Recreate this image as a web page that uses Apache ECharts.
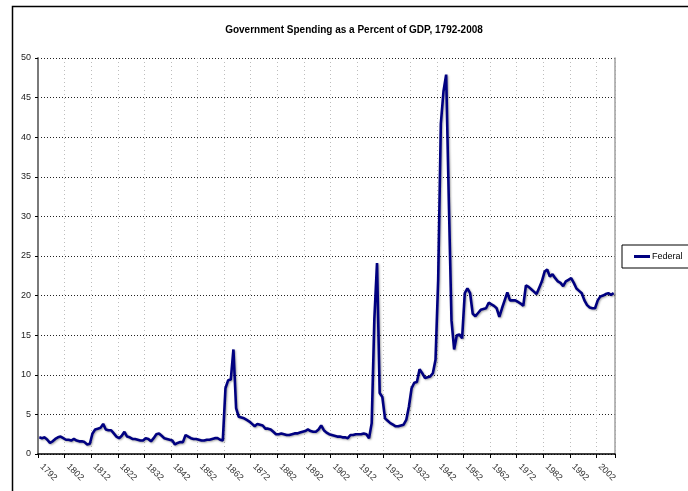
<!DOCTYPE html>
<html>
<head>
<meta charset="utf-8">
<script src="https://cdn.jsdelivr.net/npm/echarts@6/dist/echarts.min.js"></script>
<style>
  html, body { margin: 0; padding: 0; background: #fff; }
  #chart { width: 688px; height: 491px; }
</style>
</head>
<body>
<div id="chart"></div>
<script>
const titleText = 'Government Spending as a Percent of GDP, 1792-2008';
const seriesName = 'Federal';
const firstYear = 1792;
const lastYear = 2008;
const years = [];
for (let y = firstYear; y <= lastYear; y++) years.push(String(y));

// Federal spending, % of GDP, one value per year 1792-2008
const federal = [
  2.1, 2.0, 2.1, 1.8, 1.4, 1.6, 1.9, 2.1, 2.2, 2.0,      // 1792-1801
  1.8, 1.8, 1.7, 1.9, 1.7, 1.6, 1.6, 1.5, 1.2, 1.3,      // 1802-1811
  2.6, 3.1, 3.2, 3.3, 3.8, 3.1, 3.0, 3.0, 2.6, 2.2,      // 1812-1821
  2.0, 2.3, 2.8, 2.2, 2.1, 1.9, 1.9, 1.8, 1.7, 1.7,      // 1822-1831
  2.0, 1.9, 1.6, 2.0, 2.5, 2.6, 2.3, 2.0, 1.9, 1.8,      // 1832-1841
  1.7, 1.2, 1.4, 1.5, 1.5, 2.4, 2.2, 2.0, 1.9, 1.9,      // 1842-1851
  1.8, 1.7, 1.7, 1.8, 1.8, 1.9, 2.0, 2.0, 1.8, 1.7,      // 1852-1861
  8.3, 9.3, 9.4, 13.2, 5.8, 4.7, 4.6, 4.5, 4.3, 4.1,     // 1862-1871
  3.8, 3.5, 3.8, 3.7, 3.6, 3.2, 3.2, 3.1, 2.8, 2.5,      // 1872-1881
  2.5, 2.6, 2.5, 2.4, 2.4, 2.5, 2.6, 2.6, 2.7, 2.8,      // 1882-1891
  2.9, 3.1, 2.9, 2.8, 2.8, 3.1, 3.6, 3.0, 2.7, 2.5,      // 1892-1901
  2.4, 2.3, 2.2, 2.2, 2.1, 2.1, 2.0, 2.4, 2.4, 2.5,      // 1902-1911
  2.5, 2.5, 2.6, 2.5, 2.0, 3.9, 17.1, 24.1, 7.7, 7.2,    // 1912-1921
  4.5, 4.2, 3.9, 3.7, 3.5, 3.5, 3.6, 3.7, 4.3, 6.0,      // 1922-1931
  8.3, 9.0, 9.1, 10.7, 10.2, 9.6, 9.7, 9.8, 10.2, 11.9,  // 1932-1941
  22.0, 41.7, 45.8, 47.9, 32.0, 16.9, 13.2, 15.0, 15.1, 14.6, // 1942-1951
  20.3, 20.9, 20.3, 17.7, 17.4, 17.8, 18.2, 18.3, 18.4, 19.1, // 1952-1961
  18.9, 18.7, 18.4, 17.3, 18.4, 19.4, 20.4, 19.4, 19.4, 19.4, // 1962-1971
  19.2, 19.0, 18.7, 21.3, 21.1, 20.8, 20.5, 20.2, 21.0, 21.8, // 1972-1981
  23.0, 23.3, 22.4, 22.7, 22.2, 21.8, 21.6, 21.2, 21.8, 22.0, // 1982-1991
  22.2, 21.6, 20.9, 20.6, 20.3, 19.4, 18.8, 18.5, 18.4, 18.4, // 1992-2001
  19.4, 19.9, 20.0, 20.2, 20.3, 20.1, 20.3                    // 2002-2008
];

const yMin = 0, yMax = 50, yStep = 5;
const labelEvery = 10;

const font = '"Liberation Sans", Arial, sans-serif';
const chart = echarts.init(document.getElementById('chart'), null, { renderer: 'canvas' });

chart.setOption({
  animation: false,
  backgroundColor: '#fff',
  textStyle: { fontFamily: font },
  title: {
    text: titleText,
    left: 349,
    textAlign: 'center',
    top: 20,
    textStyle: { fontFamily: font, fontSize: 10, fontWeight: 'bold', color: '#000' }
  },
  graphic: [{
    type: 'rect',
    silent: true,
    shape: { x: 12.5, y: 6.5, width: 1000, height: 1000 },
    style: { fill: null, stroke: '#000', lineWidth: 1.5 }
  }],
  legend: {
    show: true,
    data: [seriesName],
    left: 622,
    top: 245,
    orient: 'vertical',
    padding: [7, 30, 7, 12],
    borderColor: '#000',
    borderWidth: 1,
    icon: 'rect',
    itemWidth: 16,
    itemHeight: 3,
    itemGap: 2,
    textStyle: { fontFamily: font, fontSize: 9, color: '#000', padding: [0, 0, 0, -3] }
  },
  grid: { left: 38, top: 58, right: 73, bottom: 37, containLabel: false },
  xAxis: {
    type: 'category',
    data: years,
    boundaryGap: true,
    axisLine: { lineStyle: { color: '#000', width: 1.5 } },
    axisTick: { show: true, interval: labelEvery - 1, length: 4, lineStyle: { color: '#000', width: 1 } },
    axisLabel: { interval: labelEvery - 1, rotate: -45, fontSize: 9, color: '#333', margin: 9, fontFamily: font, padding: [0, 0, 0, 3] },
    splitLine: { show: true, interval: labelEvery - 1, lineStyle: { color: '#bdbdbd', type: [1, 3], width: 1 } }
  },
  yAxis: [{
    type: 'value',
    min: yMin, max: yMax, interval: yStep,
    axisLine: { show: true, lineStyle: { color: '#7a7a7a', width: 2 } },
    axisTick: { show: true, length: 3, lineStyle: { color: '#000' } },
    axisLabel: { fontSize: 9, color: '#222', margin: 7, fontFamily: font },
    splitLine: { show: true, lineStyle: { color: '#222', type: [1, 2], width: 1 } }
  }, {
    type: 'value',
    position: 'right',
    min: yMin, max: yMax, interval: yStep,
    axisLine: { show: true, lineStyle: { color: '#a0a0a0', width: 1.5 } },
    axisTick: { show: false },
    axisLabel: { show: false },
    splitLine: { show: false }
  }],
  series: [{
    name: seriesName,
    type: 'line',
    yAxisIndex: 0,
    data: federal,
    showSymbol: false,
    symbol: 'none',
    smooth: false,
    color: '#000080',
    lineStyle: {
      color: '#000080',
      width: 2.6,
      shadowColor: 'rgba(0,0,0,0.35)',
      shadowBlur: 2,
      shadowOffsetX: 1,
      shadowOffsetY: 1
    }
  }]
});
</script>
</body>
</html>
